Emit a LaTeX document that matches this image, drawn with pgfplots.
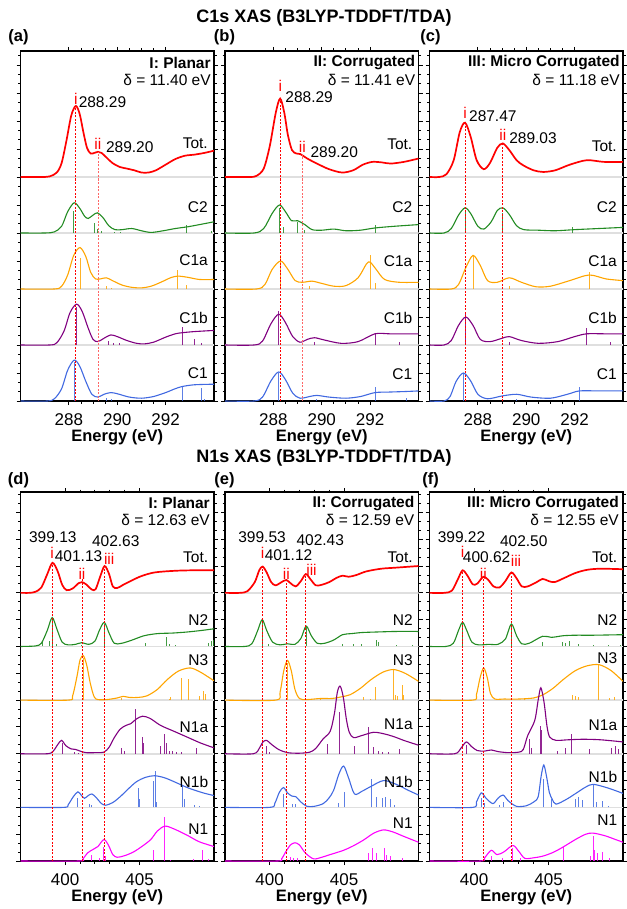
\documentclass[border=0pt]{standalone}
\usepackage{fontspec}
\setmainfont{Liberation Sans}
\usepackage{pgfplots}
\pgfplotsset{compat=1.18}
\definecolor{cgreen}{RGB}{34,139,34}
\definecolor{corange}{RGB}{255,165,0}
\definecolor{cpurple}{RGB}{128,0,128}
\definecolor{cblue}{RGB}{65,105,225}
\definecolor{cmag}{RGB}{255,0,255}
\newcommand\fs{\fontsize{15.5}{17}\selectfont}
\newcommand\fb{\bfseries\fontsize{15.5}{17}\selectfont}
\tikzset{
 cur/.style={color=#1, line width=1.1pt, smooth, tension=0.5, mark=none},
 tot/.style={color=red, line width=1.7pt, smooth, tension=0.5, mark=none},
 stk/.style={color=#1, line width=0.9pt, mark=none, opacity=0.85},
 bl/.style={color=gray!25, line width=1.6pt, mark=none},
 vl/.style={color=#1, line width=0.8pt, dash pattern=on 2pt off 1.5pt, mark=none},
 vl/.default=red,
 lab/.style={font=\fs, inner sep=0pt},
}
\pgfplotsset{
 base/.style={scale only axis, width=193.5pt, clip mode=individual, tick align=outside,
  xtick pos=both, ytick pos=both, yticklabels={}, unbounded coords=jump,
  major tick length=4pt, minor tick length=2.5pt,
  axis line style={line width=1.2pt}, every tick/.append style={black, line width=0.9pt},
  /pgf/number format/assume math mode=true,
  xticklabel style={font=\fontsize{17}{19}\selectfont, yshift=-5pt},
  xlabel={\textbf{Energy (eV)}}, xlabel style={font=\fontsize{16.5}{18}\selectfont, yshift=3pt},
  ytick distance=0.5, minor y tick num=2},
 topax/.style={base, height=350pt, xmin=286, xmax=294, ymin=0, ymax=6.25,
  xtick={288,290,292}, xticklabels={288,290,292}, minor x tick num=3},
 botax/.style={base, height=369pt, xmin=397, xmax=410, ymin=0, ymax=6.88,
  xtick={400,405}, xticklabels={400,405}, minor x tick num=4},
}
\begin{document}
\begin{tikzpicture}
\useasboundingbox (0pt,0pt) rectangle (626pt,-909pt);
\node[font=\bfseries\fontsize{18}{20}\selectfont] at (324pt,-18pt) {C1s XAS (B3LYP-TDDFT/TDA)};
\node[font=\bfseries\fontsize{18}{20}\selectfont] at (324pt,-458pt) {N1s XAS (B3LYP-TDDFT/TDA)};
\foreach \l/\x in {(a)/18.5,(b)/224.5,(c)/430.5} {\node[font=\bfseries\fontsize{16.5}{18}\selectfont] at (\x pt,-37pt) {\l};}
\foreach \l/\x in {(d)/18.5,(e)/224.5,(f)/430.5} {\node[font=\bfseries\fontsize{16.5}{18}\selectfont] at (\x pt,-480pt) {\l};}

% ================= (a) =================
\begin{axis}[topax, at={(20.5pt,-401pt)}, anchor=south west]
\addplot[bl] coordinates {(286,4)(294,4)};
\addplot[bl] coordinates {(286,3)(294,3)};
\addplot[bl] coordinates {(286,2)(294,2)};
\addplot[bl] coordinates {(286,1)(294,1)};
\addplot[stk=cgreen] coordinates {(288.2,3)(288.2,3.39)(288.2,nan)(289.05,3)(289.05,3.18)(289.05,nan)(289.2,3)(289.2,3.08)(289.2,nan)(289.35,3)(289.35,3.04)(289.35,nan)(289.9,3)(289.9,3.02)(289.9,nan)(290.15,3)(290.15,3.02)(290.15,nan)(292.85,3)(292.85,3.14)(292.85,nan)(293.9,3)(293.9,3.03)(293.9,nan)};
\addplot[stk=corange] coordinates {(288.46,2)(288.46,2.55)(288.46,nan)(289.55,2)(289.55,2.06)(289.55,nan)(289.75,2)(289.75,2.02)(289.75,nan)(292.5,2)(292.5,2.34)(292.5,nan)(292.85,2)(292.85,2.07)(292.85,nan)};
\addplot[stk=cpurple] coordinates {(288.33,1)(288.33,1.68)(288.33,nan)(289.65,1)(289.65,1.08)(289.65,nan)(289.85,1)(289.85,1.03)(289.85,nan)(290.1,1)(290.1,1.03)(290.1,nan)(292.68,1)(292.68,1.32)(292.68,nan)(293.2,1)(293.2,1.11)(293.2,nan)(293.5,1)(293.5,1.03)(293.5,nan)};
\addplot[stk=cblue] coordinates {(288.22,0)(288.22,0.7)(288.22,nan)(289.55,0)(289.55,0.05)(289.55,nan)(289.75,0)(289.75,0.03)(289.75,nan)(292.7,0)(292.7,0.26)(292.7,nan)(293.5,0)(293.5,0.23)(293.5,nan)(293.6,0)(293.6,0.03)(293.6,nan)};
\addplot[tot] coordinates {(286,4)(286.8,4)(287.2,4.01)(287.5,4.08)(287.7,4.25)(287.9,4.65)(288.1,5.1)(288.29,5.27)(288.45,5.12)(288.6,4.8)(288.75,4.52)(288.9,4.42)(289.05,4.43)(289.2,4.45)(289.35,4.43)(289.55,4.35)(289.8,4.25)(290.1,4.18)(290.4,4.15)(290.7,4.12)(291.0,4.08)(291.3,4.08)(291.6,4.12)(292.0,4.22)(292.4,4.32)(292.8,4.38)(293.2,4.40)(293.6,4.43)(294,4.47)};
\addplot[cur=cgreen] coordinates {(286,3)(287.0,3)(287.4,3.02)(287.7,3.12)(287.95,3.38)(288.22,3.54)(288.45,3.44)(288.65,3.3)(288.8,3.26)(289.0,3.32)(289.18,3.36)(289.4,3.28)(289.65,3.13)(289.9,3.06)(290.2,3.06)(290.6,3.08)(291.0,3.04)(291.4,3.01)(291.9,3.04)(292.4,3.08)(292.9,3.11)(293.4,3.15)(294,3.2)};
\addplot[cur=corange] coordinates {(286,2)(287.4,2)(287.7,2.05)(287.95,2.25)(288.2,2.6)(288.46,2.74)(288.7,2.58)(288.9,2.3)(289.1,2.18)(289.3,2.18)(289.55,2.2)(289.8,2.15)(290.2,2.07)(290.6,2.03)(291.0,2.02)(291.4,2.05)(291.8,2.12)(292.2,2.2)(292.5,2.23)(292.9,2.21)(293.4,2.17)(294,2.17)};
\addplot[cur=cpurple] coordinates {(286,1)(287.2,1)(287.5,1.04)(287.8,1.25)(288.05,1.58)(288.32,1.73)(288.55,1.6)(288.8,1.3)(289.0,1.1)(289.2,1.06)(289.45,1.12)(289.73,1.18)(290.0,1.15)(290.4,1.08)(290.8,1.03)(291.12,1.02)(291.5,1.05)(292.0,1.14)(292.4,1.2)(292.7,1.22)(293.2,1.24)(294,1.26)};
\addplot[cur=cblue] coordinates {(286,0)(287.1,0)(287.4,0.04)(287.7,0.22)(287.95,0.55)(288.22,0.73)(288.45,0.62)(288.7,0.35)(288.95,0.12)(289.2,0.07)(289.45,0.12)(289.73,0.15)(290.0,0.13)(290.5,0.07)(291.0,0.05)(291.5,0.08)(292.0,0.15)(292.4,0.22)(292.7,0.26)(293.2,0.29)(294,0.3)};
\addplot[vl] coordinates {(288.29,0)(288.29,5.27)};
\addplot[vl=red!60] coordinates {(289.2,0)(289.2,4.45)};
\node[lab, text=red] at (axis cs:288.29,5.39) {i};
\node[lab, anchor=west] at (axis cs:288.4,5.34) {288.29};
\node[lab, text=red] at (axis cs:289.2,4.59) {ii};
\node[lab, anchor=west] at (axis cs:289.53,4.54) {289.20};
\node[lab, font=\fb, anchor=east] at (axis cs:293.87,6.04) {I: Planar};
\node[lab, anchor=east] at (axis cs:293.87,5.73) {δ = 11.40 eV};
\node[lab, anchor=east] at (axis cs:293.75,4.61) {Tot.};
\node[lab, anchor=east] at (axis cs:293.75,3.46) {C2};
\node[lab, anchor=east] at (axis cs:293.75,2.52) {C1a};
\node[lab, anchor=east] at (axis cs:293.75,1.48) {C1b};
\node[lab, anchor=east] at (axis cs:293.75,0.49) {C1};
\end{axis}

% ================= (b) =================
\begin{axis}[topax, at={(225pt,-401pt)}, anchor=south west]
\addplot[bl] coordinates {(286,4)(294,4)};
\addplot[bl] coordinates {(286,3)(294,3)};
\addplot[bl] coordinates {(286,2)(294,2)};
\addplot[bl] coordinates {(286,1)(294,1)};
\addplot[stk=cgreen] coordinates {(288.25,3)(288.25,3.45)(288.25,nan)(288.4,3)(288.4,3.1)(288.4,nan)(289.0,3)(289.0,3.2)(289.0,nan)(289.3,3)(289.3,3.05)(289.3,nan)(292.2,3)(292.2,3.15)(292.2,nan)};
\addplot[stk=corange] coordinates {(288.3,2)(288.3,2.6)(288.3,nan)(289.5,2)(289.5,2.05)(289.5,nan)(292.0,2)(292.0,2.6)(292.0,nan)(292.2,2)(292.2,2.1)(292.2,nan)};
\addplot[stk=cpurple] coordinates {(288.22,1)(288.22,1.6)(288.22,nan)(289.7,1)(289.7,1.05)(289.7,nan)(292.2,1)(292.2,1.2)(292.2,nan)(293.2,1)(293.2,1.05)(293.2,nan)};
\addplot[stk=cblue] coordinates {(288.22,0)(288.22,0.5)(288.22,nan)(289.8,0)(289.8,0.03)(289.8,nan)(292.2,0)(292.2,0.25)(292.2,nan)(293.5,0)(293.5,0.05)(293.5,nan)};
\addplot[tot] coordinates {(286,4)(287.0,4)(287.3,4.02)(287.6,4.15)(287.85,4.55)(288.1,5.15)(288.28,5.4)(288.45,5.15)(288.6,4.75)(288.77,4.48)(288.95,4.42)(289.11,4.41)(289.4,4.33)(289.8,4.24)(290.3,4.14)(290.84,4.08)(291.3,4.12)(291.7,4.22)(292.09,4.27)(292.5,4.26)(292.85,4.24)(293.4,4.27)(294,4.33)};
\addplot[cur=cgreen] coordinates {(286,3)(287.2,3)(287.6,3.08)(287.95,3.35)(288.25,3.5)(288.5,3.38)(288.75,3.22)(289.0,3.22)(289.3,3.15)(289.6,3.06)(290.0,3.05)(290.5,3.07)(291.0,3.04)(291.6,3.05)(292.2,3.09)(293.0,3.12)(294,3.15)};
\addplot[cur=corange] coordinates {(286,2)(287.3,2)(287.65,2.08)(287.95,2.35)(288.3,2.5)(288.6,2.35)(288.9,2.15)(289.2,2.12)(289.6,2.14)(290.0,2.1)(290.5,2.05)(291.0,2.06)(291.5,2.2)(291.85,2.45)(292.0,2.48)(292.25,2.35)(292.6,2.17)(293.2,2.12)(294,2.12)};
\addplot[cur=cpurple] coordinates {(286,1)(287.2,1)(287.55,1.07)(287.9,1.38)(288.22,1.55)(288.5,1.4)(288.8,1.15)(289.1,1.05)(289.4,1.1)(289.7,1.13)(290.1,1.09)(290.8,1.03)(291.5,1.06)(292.2,1.2)(292.8,1.2)(293.5,1.2)(294,1.2)};
\addplot[cur=cblue] coordinates {(286,0)(287.2,0)(287.55,0.07)(287.9,0.36)(288.22,0.52)(288.5,0.38)(288.8,0.14)(289.1,0.05)(289.5,0.08)(289.8,0.1)(290.3,0.07)(291.0,0.05)(291.6,0.08)(292.2,0.15)(292.8,0.16)(293.5,0.17)(294,0.18)};
\addplot[vl] coordinates {(288.29,0)(288.29,5.4)};
\addplot[vl=red!60] coordinates {(289.2,0)(289.2,4.41)};
\node[lab, text=red] at (axis cs:288.29,5.63) {i};
\node[lab, anchor=west] at (axis cs:288.49,5.43) {288.29};
\node[lab, text=red] at (axis cs:289.2,4.54) {ii};
\node[lab, anchor=west] at (axis cs:289.53,4.45) {289.20};
\node[lab, font=\fb, anchor=east] at (axis cs:293.87,6.04) {II: Corrugated};
\node[lab, anchor=east] at (axis cs:293.87,5.73) {δ = 11.41 eV};
\node[lab, anchor=east] at (axis cs:293.75,4.58) {Tot.};
\node[lab, anchor=east] at (axis cs:293.75,3.46) {C2};
\node[lab, anchor=east] at (axis cs:293.75,2.5) {C1a};
\node[lab, anchor=east] at (axis cs:293.75,1.48) {C1b};
\node[lab, anchor=east] at (axis cs:293.75,0.48) {C1};
\end{axis}

% ================= (c) =================
\begin{axis}[topax, at={(429.5pt,-401pt)}, anchor=south west]
\addplot[bl] coordinates {(286,4)(294,4)};
\addplot[bl] coordinates {(286,3)(294,3)};
\addplot[bl] coordinates {(286,2)(294,2)};
\addplot[bl] coordinates {(286,1)(294,1)};
\addplot[stk=cgreen] coordinates {(287.47,3)(287.47,3.4)(287.47,nan)(289.0,3)(289.0,3.35)(289.0,nan)(291.9,3)(291.9,3.1)(291.9,nan)};
\addplot[stk=corange] coordinates {(287.8,2)(287.8,2.6)(287.8,nan)(289.3,2)(289.3,2.05)(289.3,nan)(292.6,2)(292.6,2.3)(292.6,nan)};
\addplot[stk=cpurple] coordinates {(287.5,1)(287.5,1.55)(287.5,nan)(289.3,1)(289.3,1.05)(289.3,nan)(292.5,1)(292.5,1.3)(292.5,nan)(293.5,1)(293.5,1.05)(293.5,nan)};
\addplot[stk=cblue] coordinates {(287.4,0)(287.4,0.5)(287.4,nan)(289.6,0)(289.6,0.04)(289.6,nan)(292.2,0)(292.2,0.25)(292.2,nan)};
\addplot[tot] coordinates {(286,4)(286.4,4)(286.7,4.05)(287.0,4.3)(287.25,4.8)(287.47,4.97)(287.7,4.72)(287.95,4.3)(288.24,4.14)(288.5,4.25)(288.8,4.52)(289.03,4.6)(289.3,4.48)(289.6,4.3)(289.87,4.21)(290.3,4.12)(290.7,4.09)(291.2,4.12)(291.8,4.22)(292.5,4.3)(293.2,4.27)(294,4.27)};
\addplot[cur=cgreen] coordinates {(286,3)(286.6,3)(286.9,3.08)(287.2,3.32)(287.47,3.45)(287.7,3.35)(288.0,3.12)(288.25,3.07)(288.55,3.2)(288.8,3.4)(289.03,3.45)(289.3,3.33)(289.6,3.13)(289.9,3.06)(290.5,3.05)(291.2,3.04)(292,3.06)(293,3.08)(294,3.1)};
\addplot[cur=corange] coordinates {(286,2)(286.9,2)(287.2,2.08)(287.5,2.38)(287.8,2.6)(288.1,2.42)(288.4,2.15)(288.8,2.12)(289.3,2.2)(289.8,2.12)(290.4,2.04)(291.0,2.05)(291.8,2.15)(292.6,2.25)(293.3,2.18)(294,2.15)};
\addplot[cur=cpurple] coordinates {(286,1)(286.6,1)(286.9,1.08)(287.2,1.35)(287.5,1.5)(287.8,1.35)(288.1,1.1)(288.5,1.06)(289.0,1.12)(289.3,1.15)(289.8,1.08)(290.5,1.03)(291.3,1.06)(292.0,1.15)(292.5,1.2)(293.2,1.2)(294,1.2)};
\addplot[cur=cblue] coordinates {(286,0)(286.6,0)(286.85,0.08)(287.1,0.35)(287.4,0.5)(287.7,0.36)(288.0,0.12)(288.4,0.04)(289.0,0.09)(289.6,0.12)(290.2,0.07)(291.0,0.05)(291.7,0.12)(292.2,0.18)(293,0.18)(294,0.18)};
\addplot[vl] coordinates {(287.47,0)(287.47,4.97)};
\addplot[vl] coordinates {(289.03,0)(289.03,4.6)};
\node[lab, text=red] at (axis cs:287.47,5.14) {i};
\node[lab, anchor=west] at (axis cs:287.63,5.08) {287.47};
\node[lab, text=red] at (axis cs:289.03,4.75) {ii};
\node[lab, anchor=west] at (axis cs:289.29,4.69) {289.03};
\node[lab, font=\fb, anchor=east] at (axis cs:293.87,6.04) {III: Micro Corrugated};
\node[lab, anchor=east] at (axis cs:293.87,5.73) {δ = 11.18 eV};
\node[lab, anchor=east] at (axis cs:293.75,4.55) {Tot.};
\node[lab, anchor=east] at (axis cs:293.75,3.46) {C2};
\node[lab, anchor=east] at (axis cs:293.75,2.5) {C1a};
\node[lab, anchor=east] at (axis cs:293.75,1.48) {C1b};
\node[lab, anchor=east] at (axis cs:293.75,0.48) {C1};
\end{axis}

% ================= (d) =================
\begin{axis}[botax, at={(20.5pt,-861pt)}, anchor=south west]
\addplot[bl] coordinates {(397,5)(410,5)};
\addplot[bl] coordinates {(397,4)(410,4)};
\addplot[bl] coordinates {(397,3)(410,3)};
\addplot[bl] coordinates {(397,2)(410,2)};
\addplot[bl] coordinates {(397,1)(410,1)};
\addplot[stk=cgreen] coordinates {(398.5,4)(398.5,4.08)(398.5,nan)(398.95,4)(398.95,4.1)(398.95,nan)(399.13,4)(399.13,4.5)(399.13,nan)(399.4,4)(399.4,4.05)(399.4,nan)(401.1,4)(401.1,4.03)(401.1,nan)(402.63,4)(402.63,4.42)(402.63,nan)(405.4,4)(405.4,4.07)(405.4,nan)(406.8,4)(406.8,4.18)(406.8,nan)(407.0,4)(407.0,4.04)(407.0,nan)(407.4,4)(407.4,4.03)(407.4,nan)(409.6,4)(409.6,4.06)(409.6,nan)(409.8,4)(409.8,4.1)(409.8,nan)(409.95,4)(409.95,4.12)(409.95,nan)};
\addplot[stk=corange] coordinates {(401.22,3)(401.22,3.78)(401.22,nan)(403.8,3)(403.8,3.04)(403.8,nan)(407.0,3)(407.0,3.03)(407.0,nan)(407.1,3)(407.1,3.05)(407.1,nan)(407.8,3)(407.8,3.41)(407.8,nan)(408.3,3)(408.3,3.39)(408.3,nan)(409.0,3)(409.0,3.08)(409.0,nan)(409.3,3)(409.3,3.17)(409.3,nan)(409.4,3)(409.4,3.12)(409.4,nan)};
\addplot[stk=cpurple] coordinates {(399.8,2)(399.8,2.2)(399.8,nan)(400.6,2)(400.6,2.03)(400.6,nan)(400.9,2)(400.9,2.02)(400.9,nan)(403.8,2)(403.8,2.1)(403.8,nan)(404.0,2)(404.0,2.05)(404.0,nan)(404.7,2)(404.7,2.84)(404.7,nan)(405.2,2)(405.2,2.32)(405.2,nan)(405.27,2)(405.27,2.2)(405.27,nan)(406.4,2)(406.4,2.15)(406.4,nan)(406.7,2)(406.7,2.36)(406.7,nan)(406.8,2)(406.8,2.2)(406.8,nan)(407.0,2)(407.0,2.05)(407.0,nan)(407.2,2)(407.2,2.05)(407.2,nan)(407.5,2)(407.5,2.04)(407.5,nan)(407.8,2)(407.8,2.04)(407.8,nan)(408.8,2)(408.8,2.1)(408.8,nan)};
\addplot[stk=cblue] coordinates {(400.8,1)(400.8,1.17)(400.8,nan)(401.6,1)(401.6,1.06)(401.6,nan)(401.75,1)(401.75,1.05)(401.75,nan)(404.9,1)(404.9,1.37)(404.9,nan)(405.0,1)(405.0,1.15)(405.0,nan)(405.95,1)(405.95,1.5)(405.95,nan)(406.05,1)(406.05,1.68)(406.05,nan)(406.15,1)(406.15,1.1)(406.15,nan)(407.9,1)(407.9,1.39)(407.9,nan)(408.0,1)(408.0,1.15)(408.0,nan)(408.7,1)(408.7,1.05)(408.7,nan)(409.0,1)(409.0,1.02)(409.0,nan)};
\addplot[stk=cmag] coordinates {(401.8,0)(401.8,0.12)(401.8,nan)(402.3,0)(402.3,0.05)(402.3,nan)(402.6,0)(402.6,0.27)(402.6,nan)(402.7,0)(402.7,0.1)(402.7,nan)(405.9,0)(405.9,0.2)(405.9,nan)(406.65,0)(406.65,0.82)(406.65,nan)(407.1,0)(407.1,0.02)(407.1,nan)(408.6,0)(408.6,0.03)(408.6,nan)(409.2,0)(409.2,0.2)(409.2,nan)(409.6,0)(409.6,0.04)(409.6,nan)};
\addplot[tot] coordinates {(397,5)(397.6,5.0)(398.0,5.02)(398.4,5.1)(398.8,5.35)(399.15,5.56)(399.5,5.4)(399.8,5.15)(400.1,5.05)(400.5,5.08)(400.9,5.18)(401.13,5.2)(401.4,5.16)(401.8,5.06)(402.05,5.07)(402.35,5.3)(402.65,5.5)(402.95,5.35)(403.2,5.12)(403.5,5.09)(403.9,5.15)(404.4,5.22)(405.1,5.31)(406,5.38)(407.3,5.41)(408.5,5.42)(410,5.42)};
\addplot[cur=cgreen] coordinates {(397,4)(398.0,4.01)(398.4,4.06)(398.8,4.3)(399.13,4.54)(399.45,4.32)(399.8,4.08)(400.2,4.03)(400.7,4.04)(401.1,4.07)(401.6,4.04)(402.0,4.1)(402.3,4.3)(402.63,4.45)(402.95,4.25)(403.3,4.06)(403.8,4.06)(404.5,4.12)(405.3,4.2)(406.2,4.24)(407.2,4.25)(408.2,4.27)(409.2,4.3)(410,4.33)};
\addplot[cur=corange] coordinates {(397,3)(400.2,3)(400.5,3.08)(400.8,3.45)(401.0,3.75)(401.22,3.83)(401.45,3.65)(401.7,3.3)(401.95,3.06)(402.2,3.01)(402.8,3.01)(403.5,3.04)(403.9,3.07)(404.3,3.05)(404.9,3.05)(405.5,3.08)(406.2,3.2)(406.85,3.38)(407.6,3.54)(408.4,3.6)(409.1,3.52)(410,3.36)};
\addplot[cur=cpurple] coordinates {(397,2)(398.8,2)(399.2,2.05)(399.5,2.17)(399.76,2.25)(400.05,2.15)(400.4,2.09)(400.7,2.08)(401.0,2.05)(401.4,2.02)(402.0,2.02)(402.6,2.03)(402.95,2.12)(403.3,2.3)(403.7,2.46)(404.1,2.53)(404.4,2.56)(404.8,2.65)(405.2,2.7)(405.7,2.66)(406.4,2.53)(407.3,2.42)(408.2,2.31)(409.1,2.2)(410,2.11)};
\addplot[cur=cblue] coordinates {(397,1)(399.9,1)(400.2,1.05)(400.55,1.2)(400.86,1.29)(401.1,1.22)(401.3,1.17)(401.55,1.22)(401.8,1.25)(402.1,1.18)(402.4,1.08)(402.7,1.04)(403.2,1.09)(403.7,1.2)(404.3,1.36)(404.8,1.48)(405.4,1.56)(406.0,1.59)(406.7,1.55)(407.55,1.45)(408.2,1.37)(408.7,1.32)(409.4,1.26)(410,1.22)};
\addplot[cur=cmag] coordinates {(397,0)(400.9,0)(401.2,0.04)(401.5,0.15)(401.9,0.22)(402.2,0.27)(402.6,0.4)(402.9,0.3)(403.2,0.12)(403.5,0.07)(404.0,0.1)(404.6,0.17)(405.2,0.28)(405.75,0.4)(406.2,0.56)(406.7,0.65)(407.3,0.6)(408.2,0.48)(409.0,0.36)(410,0.27)};
\addplot[vl] coordinates {(399.13,0)(399.13,5.56)};
\addplot[vl] coordinates {(401.13,0)(401.13,5.25)};
\addplot[vl] coordinates {(402.63,0)(402.63,5.5)};
\node[lab] at (axis cs:399.17,6.03) {399.13};
\node[lab, text=red] at (axis cs:399.13,5.75) {i};
\node[lab] at (axis cs:400.9,5.69) {401.13};
\node[lab, text=red] at (axis cs:401.13,5.36) {ii};
\node[lab] at (axis cs:403.4,5.96) {402.63};
\node[lab, text=red, anchor=west] at (axis cs:402.6,5.63) {iii};
\node[lab, font=\fb, anchor=east] at (axis cs:409.73,6.67) {I: Planar};
\node[lab, anchor=east] at (axis cs:409.73,6.36) {δ = 12.63 eV};
\node[lab, anchor=east] at (axis cs:409.62,5.67) {Tot.};
\node[lab, anchor=east] at (axis cs:409.62,4.5) {N2};
\node[lab, anchor=east] at (axis cs:409.62,3.74) {N3};
\node[lab, anchor=east] at (axis cs:409.62,2.5) {N1a};
\node[lab, anchor=east] at (axis cs:409.62,1.48) {N1b};
\node[lab, anchor=east] at (axis cs:409.62,0.59) {N1};
\end{axis}

% ================= (e) =================
\begin{axis}[botax, at={(225pt,-861pt)}, anchor=south west]
\addplot[bl] coordinates {(397,5)(410,5)};
\addplot[bl] coordinates {(397,4)(410,4)};
\addplot[bl] coordinates {(397,3)(410,3)};
\addplot[bl] coordinates {(397,2)(410,2)};
\addplot[bl] coordinates {(397,1)(410,1)};
\addplot[stk=cgreen] coordinates {(399.5,4)(399.5,4.5)(399.5,nan)(399.9,4)(399.9,4.05)(399.9,nan)(402.45,4)(402.45,4.38)(402.45,nan)(404.9,4)(404.9,4.04)(404.9,nan)(405.6,4)(405.6,4.05)(405.6,nan)(406.2,4)(406.2,4.05)(406.2,nan)(407.2,4)(407.2,4.12)(407.2,nan)(407.3,4)(407.3,4.08)(407.3,nan)(408.5,4)(408.5,4.03)(408.5,nan)(409.6,4)(409.6,4.03)(409.6,nan)};
\addplot[stk=corange] coordinates {(401.2,3)(401.2,3.7)(401.2,nan)(403.4,3)(403.4,3.02)(403.4,nan)(406.3,3)(406.3,3.05)(406.3,nan)(406.8,3)(406.8,3.03)(406.8,nan)(407.1,3)(407.1,3.24)(407.1,nan)(408.3,3)(408.3,3.57)(408.3,nan)(408.45,3)(408.45,3.1)(408.45,nan)(408.6,3)(408.6,3.08)(408.6,nan)(408.9,3)(408.9,3.29)(408.9,nan)(409.0,3)(409.0,3.1)(409.0,nan)};
\addplot[stk=cpurple] coordinates {(399.8,2)(399.8,2.15)(399.8,nan)(400.0,2)(400.0,2.03)(400.0,nan)(403.85,2)(403.85,2.19)(403.85,nan)(404.7,2)(404.7,2.78)(404.7,nan)(405.7,2)(405.7,2.15)(405.7,nan)(406.67,2)(406.67,2.49)(406.67,nan)(407.0,2)(407.0,2.12)(407.0,nan)(407.3,2)(407.3,2.05)(407.3,nan)(407.6,2)(407.6,2.04)(407.6,nan)(408.0,2)(408.0,2.03)(408.0,nan)(408.7,2)(408.7,2.08)(408.7,nan)};
\addplot[stk=cblue] coordinates {(400.93,1)(400.93,1.25)(400.93,nan)(401.5,1)(401.5,1.07)(401.5,nan)(401.7,1)(401.7,1.06)(401.7,nan)(404.6,1)(404.6,1.08)(404.6,nan)(405.0,1)(405.0,1.28)(405.0,nan)(406.87,1)(406.87,1.53)(406.87,nan)(407.2,1)(407.2,1.2)(407.2,nan)(407.55,1)(407.55,1.17)(407.55,nan)(407.8,1)(407.8,1.2)(407.8,nan)(408.1,1)(408.1,1.15)(408.1,nan)(408.4,1)(408.4,1.05)(408.4,nan)};
\addplot[stk=cmag] coordinates {(401.4,0)(401.4,0.08)(401.4,nan)(401.6,0)(401.6,0.05)(401.6,nan)(401.9,0)(401.9,0.06)(401.9,nan)(406.65,0)(406.65,0.15)(406.65,nan)(406.9,0)(406.9,0.25)(406.9,nan)(407.2,0)(407.2,0.15)(407.2,nan)(407.7,0)(407.7,0.25)(407.7,nan)(407.85,0)(407.85,0.12)(407.85,nan)(408.1,0)(408.1,0.1)(408.1,nan)(408.9,0)(408.9,0.05)(408.9,nan)};
\addplot[tot] coordinates {(397,5)(398.0,5)(398.5,5.03)(399.0,5.2)(399.3,5.42)(399.53,5.49)(399.8,5.38)(400.1,5.2)(400.4,5.14)(400.8,5.2)(401.12,5.24)(401.4,5.18)(401.75,5.12)(402.1,5.22)(402.43,5.35)(402.75,5.25)(403.1,5.14)(403.5,5.15)(404.0,5.2)(404.5,5.28)(404.9,5.32)(405.3,5.3)(405.8,5.33)(406.5,5.4)(407.5,5.45)(408.5,5.47)(410,5.5)};
\addplot[cur=cgreen] coordinates {(397,4)(398.3,4)(398.8,4.05)(399.2,4.3)(399.5,4.5)(399.8,4.3)(400.2,4.08)(400.7,4.03)(401.2,4.05)(401.7,4.04)(402.1,4.15)(402.45,4.38)(402.8,4.2)(403.2,4.06)(403.7,4.06)(404.3,4.12)(404.9,4.22)(405.5,4.24)(406.2,4.26)(407.2,4.27)(408.5,4.28)(410,4.28)};
\addplot[cur=corange] coordinates {(397,3)(400.4,3)(400.7,3.15)(400.95,3.55)(401.2,3.74)(401.45,3.55)(401.7,3.2)(402.0,3.03)(402.5,3.01)(403.4,3.03)(404.2,3.03)(404.8,3.06)(405.4,3.1)(406.1,3.22)(406.8,3.38)(407.6,3.52)(408.33,3.57)(409.1,3.5)(410,3.35)};
\addplot[cur=cpurple] coordinates {(397,2)(398.9,2)(399.3,2.1)(399.55,2.22)(399.8,2.25)(400.1,2.18)(400.6,2.08)(401.2,2.02)(402.0,2.01)(402.7,2.03)(403.1,2.1)(403.6,2.28)(404.07,2.42)(404.35,2.75)(404.55,3.15)(404.74,3.26)(404.95,3.05)(405.15,2.65)(405.35,2.4)(405.64,2.3)(406.2,2.34)(406.99,2.4)(407.7,2.37)(408.33,2.32)(409.1,2.24)(410,2.16)};
\addplot[cur=cblue] coordinates {(397,1)(400.0,1)(400.35,1.08)(400.65,1.28)(400.93,1.37)(401.2,1.27)(401.5,1.21)(401.75,1.2)(402.1,1.1)(402.5,1.02)(403.0,1.02)(403.6,1.07)(404.0,1.18)(404.3,1.32)(404.65,1.62)(404.97,1.77)(405.3,1.55)(405.7,1.25)(406.2,1.3)(406.8,1.39)(407.66,1.5)(408.5,1.43)(409.3,1.32)(410,1.23)};
\addplot[cur=cmag] coordinates {(397,0)(400.5,0)(400.8,0.04)(401.1,0.18)(401.4,0.3)(401.7,0.34)(402.0,0.3)(402.4,0.15)(402.95,0.04)(403.5,0.07)(404.07,0.12)(404.97,0.2)(405.6,0.28)(406.3,0.39)(407.0,0.52)(407.66,0.58)(408.3,0.54)(409.0,0.46)(410,0.35)};
\addplot[vl] coordinates {(399.53,0)(399.53,5.49)};
\addplot[vl] coordinates {(401.12,0)(401.12,5.24)};
\addplot[vl] coordinates {(402.43,0)(402.43,5.35)};
\node[lab] at (axis cs:399.49,6.03) {399.53};
\node[lab, text=red] at (axis cs:399.53,5.75) {i};
\node[lab] at (axis cs:401.27,5.7) {401.12};
\node[lab, text=red] at (axis cs:401.12,5.36) {ii};
\node[lab] at (axis cs:403.4,5.99) {402.43};
\node[lab, text=red, anchor=west] at (axis cs:402.45,5.43) {iii};
\node[lab, font=\fb, anchor=east] at (axis cs:409.73,6.67) {II: Corrugated};
\node[lab, anchor=east] at (axis cs:409.73,6.36) {δ = 12.59 eV};
\node[lab, anchor=east] at (axis cs:409.62,5.67) {Tot.};
\node[lab, anchor=east] at (axis cs:409.62,4.5) {N2};
\node[lab, anchor=east] at (axis cs:409.62,3.74) {N3};
\node[lab, anchor=east] at (axis cs:409.62,2.55) {N1a};
\node[lab, anchor=east] at (axis cs:409.62,1.48) {N1b};
\node[lab, anchor=east] at (axis cs:409.62,0.71) {N1};
\end{axis}

% ================= (f) =================
\begin{axis}[botax, at={(429.5pt,-861pt)}, anchor=south west]
\addplot[bl] coordinates {(397,5)(410,5)};
\addplot[bl] coordinates {(397,4)(410,4)};
\addplot[bl] coordinates {(397,3)(410,3)};
\addplot[bl] coordinates {(397,2)(410,2)};
\addplot[bl] coordinates {(397,1)(410,1)};
\addplot[stk=cgreen] coordinates {(399.22,4)(399.22,4.45)(399.22,nan)(402.5,4)(402.5,4.42)(402.5,nan)(404.6,4)(404.6,4.08)(404.6,nan)(405.9,4)(405.9,4.08)(405.9,nan)(406.1,4)(406.1,4.06)(406.1,nan)(406.4,4)(406.4,4.1)(406.4,nan)(407.0,4)(407.0,4.04)(407.0,nan)(408.0,4)(408.0,4.03)(408.0,nan)(409.0,4)(409.0,4.03)(409.0,nan)(409.8,4)(409.8,4.03)(409.8,nan)};
\addplot[stk=corange] coordinates {(400.64,3)(400.64,3.55)(400.64,nan)(403.4,3)(403.4,3.02)(403.4,nan)(406.6,3)(406.6,3.1)(406.6,nan)(406.8,3)(406.8,3.08)(406.8,nan)(407.0,3)(407.0,3.06)(407.0,nan)(408.38,3)(408.38,3.66)(408.38,nan)(409.1,3)(409.1,3.04)(409.1,nan)(409.4,3)(409.4,3.05)(409.4,nan)};
\addplot[stk=cpurple] coordinates {(399.5,2)(399.5,2.16)(399.5,nan)(400.5,2)(400.5,2.02)(400.5,nan)(403.73,2)(403.73,2.28)(403.73,nan)(403.85,2)(403.85,2.1)(403.85,nan)(404.45,2)(404.45,2.51)(404.45,nan)(404.55,2)(404.55,2.45)(404.55,nan)(405.6,2)(405.6,2.06)(405.6,nan)(406.1,2)(406.1,2.1)(406.1,nan)(406.54,2)(406.54,2.37)(406.54,nan)(407.77,2)(407.77,2.08)(407.77,nan)(409.2,2)(409.2,2.1)(409.2,nan)(409.5,2)(409.5,2.15)(409.5,nan)(409.7,2)(409.7,2.08)(409.7,nan)};
\addplot[stk=cblue] coordinates {(400.47,1)(400.47,1.17)(400.47,nan)(400.7,1)(400.7,1.08)(400.7,nan)(401.7,1)(401.7,1.05)(401.7,nan)(401.95,1)(401.95,1.1)(401.95,nan)(404.68,1)(404.68,1.52)(404.68,nan)(405.2,1)(405.2,1.15)(405.2,nan)(406.8,1)(406.8,1.15)(406.8,nan)(407.0,1)(407.0,1.2)(407.0,nan)(407.3,1)(407.3,1.13)(407.3,nan)(408.0,1)(408.0,1.42)(408.0,nan)(408.2,1)(408.2,1.1)(408.2,nan)(408.6,1)(408.6,1.12)(408.6,nan)(409.0,1)(409.0,1.03)(409.0,nan)};
\addplot[stk=cmag] coordinates {(401.15,0)(401.15,0.1)(401.15,nan)(401.9,0)(401.9,0.05)(401.9,nan)(402.6,0)(402.6,0.25)(402.6,nan)(403.1,0)(403.1,0.05)(403.1,nan)(405.97,0)(405.97,0.27)(405.97,nan)(407.8,0)(407.8,0.1)(407.8,nan)(408.0,0)(408.0,0.46)(408.0,nan)(408.1,0)(408.1,0.2)(408.1,nan)(408.3,0)(408.3,0.15)(408.3,nan)(408.6,0)(408.6,0.17)(408.6,nan)(409.1,0)(409.1,0.05)(409.1,nan)};
\addplot[tot] coordinates {(397,5)(398.0,5)(398.5,5.04)(398.9,5.25)(399.22,5.42)(399.55,5.32)(399.9,5.16)(400.2,5.17)(400.62,5.3)(400.95,5.24)(401.3,5.12)(401.7,5.1)(402.1,5.22)(402.5,5.38)(402.85,5.27)(403.2,5.12)(403.6,5.12)(404.2,5.2)(404.6,5.26)(405.0,5.22)(405.4,5.2)(406.0,5.27)(406.8,5.37)(407.6,5.43)(408.5,5.45)(410,5.44)};
\addplot[cur=cgreen] coordinates {(397,4)(398.1,4)(398.6,4.06)(398.95,4.3)(399.22,4.45)(399.5,4.3)(399.85,4.08)(400.3,4.03)(401.0,4.04)(401.6,4.04)(402.1,4.14)(402.5,4.42)(402.85,4.2)(403.2,4.05)(403.7,4.06)(404.6,4.19)(405.2,4.17)(405.97,4.2)(406.8,4.21)(408,4.21)(410,4.22)};
\addplot[cur=corange] coordinates {(397,3)(399.9,3)(400.15,3.1)(400.4,3.42)(400.64,3.6)(400.88,3.42)(401.1,3.12)(401.4,3.02)(402,3.02)(403,3.02)(404.0,3.04)(404.63,3.1)(405.3,3.22)(405.97,3.38)(406.8,3.55)(407.6,3.64)(408.4,3.66)(409.2,3.55)(410,3.35)};
\addplot[cur=cpurple] coordinates {(397,2)(398.7,2)(399.1,2.1)(399.47,2.22)(399.8,2.14)(400.2,2.06)(400.7,2.05)(401.15,2.07)(401.6,2.04)(402.3,2.02)(403.0,2.03)(403.3,2.08)(403.6,2.34)(404.07,2.62)(404.3,3.0)(404.48,3.23)(404.7,2.95)(404.9,2.5)(405.08,2.31)(405.5,2.25)(406.3,2.26)(407.3,2.27)(408.5,2.26)(410,2.22)};
\addplot[cur=cblue] coordinates {(397,1)(399.9,1)(400.15,1.1)(400.48,1.27)(400.8,1.17)(401.26,1.07)(401.6,1.17)(401.94,1.23)(402.3,1.12)(402.84,1.02)(403.5,1.03)(404.0,1.1)(404.3,1.2)(404.5,1.58)(404.68,1.79)(404.88,1.55)(405.05,1.28)(405.25,1.15)(405.5,1.06)(406.2,1.15)(406.88,1.27)(407.5,1.38)(408,1.43)(409,1.36)(410,1.26)};
\addplot[cur=cmag] coordinates {(397,0)(400.4,0)(400.7,0.06)(401.15,0.2)(401.53,0.12)(402.0,0.17)(402.6,0.29)(403.0,0.18)(403.4,0.05)(404.0,0.06)(404.6,0.09)(405.3,0.16)(405.97,0.26)(406.8,0.4)(407.5,0.5)(408.0,0.52)(408.8,0.47)(409.5,0.4)(410,0.35)};
\addplot[vl] coordinates {(399.22,0)(399.22,5.42)};
\addplot[vl] coordinates {(400.62,0)(400.62,5.3)};
\addplot[vl] coordinates {(402.5,0)(402.5,5.38)};
\node[lab] at (axis cs:399.15,6.03) {399.22};
\node[lab, text=red] at (axis cs:399.22,5.76) {i};
\node[lab] at (axis cs:400.84,5.67) {400.62};
\node[lab, text=red] at (axis cs:400.62,5.35) {ii};
\node[lab] at (axis cs:403.33,5.96) {402.50};
\node[lab, text=red, anchor=west] at (axis cs:402.45,5.6) {iii};
\node[lab, font=\fb, anchor=east] at (axis cs:409.73,6.67) {III: Micro Corrugated};
\node[lab, anchor=east] at (axis cs:409.73,6.36) {δ = 12.55 eV};
\node[lab, anchor=east] at (axis cs:409.62,5.67) {Tot.};
\node[lab, anchor=east] at (axis cs:409.62,4.5) {N2};
\node[lab, anchor=east] at (axis cs:409.62,3.78) {N3};
\node[lab, anchor=east] at (axis cs:409.62,2.53) {N1a};
\node[lab, anchor=east] at (axis cs:409.62,1.57) {N1b};
\node[lab, anchor=east] at (axis cs:409.62,0.76) {N1};
\end{axis}
\end{tikzpicture}
\end{document}
